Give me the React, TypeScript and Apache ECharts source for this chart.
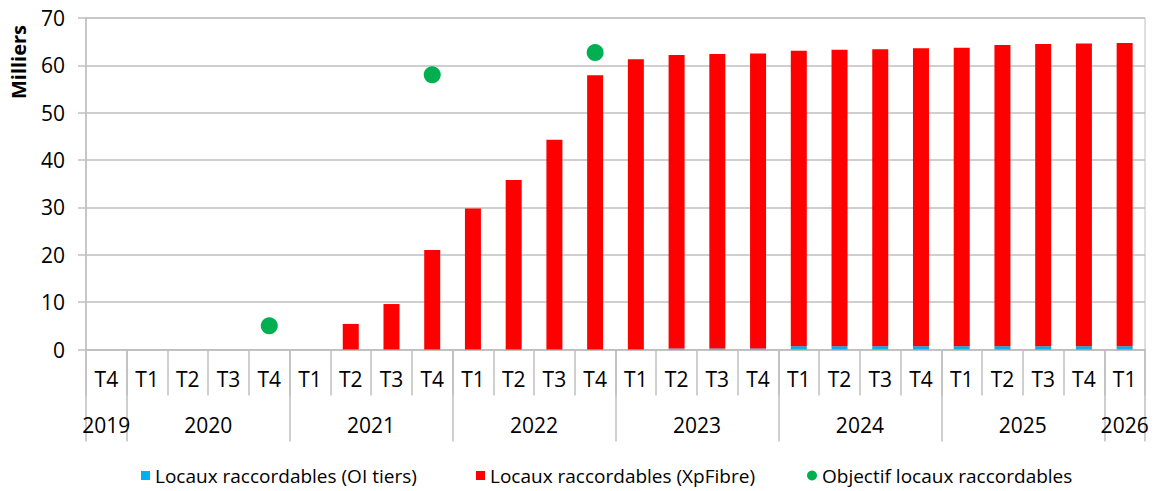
import React, { useEffect, useRef } from "react";
import * as echarts from "echarts";

const quarters = [
  "T4",
  "T1", "T2", "T3", "T4",
  "T1", "T2", "T3", "T4",
  "T1", "T2", "T3", "T4",
  "T1", "T2", "T3", "T4",
  "T1", "T2", "T3", "T4",
  "T1", "T2", "T3", "T4",
  "T1",
];
const years = ["2019", "2020", "2021", "2022", "2023", "2024", "2025", "2026"];
const quartersPerYear = [1, 4, 4, 4, 4, 4, 4, 1];

const oiTiers = [
  0,
  0, 0, 0, 0,
  0, 0, 0, 0,
  0, 0, 0, 0,
  0, 0.2, 0.2, 0.2,
  0.7, 0.7, 0.7, 0.7,
  0.7, 0.7, 0.7, 0.7,
  0.7,
];
const xpFibre = [
  0,
  0, 0, 0, 0,
  0, 5.4, 9.6, 21.0,
  29.8, 35.8, 44.3, 57.9,
  61.3, 62.0, 62.2, 62.3,
  62.4, 62.6, 62.7, 62.9,
  63.0, 63.6, 63.8, 63.9,
  64.0,
];
const objectif = [
  null,
  null, null, null, 5.0,
  null, null, null, 58.0,
  null, null, null, 62.7,
  null, null, null, null,
  null, null, null, null,
  null, null, null, null,
  null,
];
const yTicks = { min: 0, max: 70, interval: 10 };

const FONT = '"Open Sans", sans-serif';
const GRID_COLOR = "#bfbfbf";
const AXIS_FS = 21;
const LEGEND_FS = 19;

export default function App() {
  const ref = useRef<HTMLDivElement>(null);

  useEffect(() => {
    document.body.style.margin = "0";
    if (!ref.current) return;
    const chart = echarts.init(ref.current, undefined, { renderer: "svg" });

    const boundaries: number[] = [0];
    const centres: number[] = [];
    let acc = 0;
    quartersPerYear.forEach((n) => {
      centres.push(acc + n / 2);
      acc += n;
      boundaries.push(acc);
    });

    const legendBase = {
      top: 466,
      padding: 0,
      itemWidth: 9,
      itemHeight: 9,
      textStyle: { fontSize: LEGEND_FS, color: "#000", fontFamily: FONT },
    };

    const option: any = {
      animation: false,
      textStyle: { fontFamily: FONT },
      grid: {
        left: 86,
        right: 13,
        top: 18,
        bottom: 141.5,
        show: true,
        borderColor: GRID_COLOR,
        borderWidth: 1,
        backgroundColor: "transparent",
      },
      legend: [
        {
          ...legendBase,
          data: [{ name: "Locaux raccordables (OI tiers)", icon: "rect" }],
          left: 141,
        },
        {
          ...legendBase,
          data: [{ name: "Locaux raccordables (XpFibre)", icon: "rect" }],
          left: 476,
        },
        {
          ...legendBase,
          data: [{ name: "Objectif locaux raccordables", icon: "circle" }],
          left: 807,
          itemWidth: 10,
          itemHeight: 10,
        },
      ],
      xAxis: [
        {
          type: "category",
          data: quarters,
          position: "bottom",
          boundaryGap: true,
          axisLine: { show: true, lineStyle: { color: GRID_COLOR, width: 1.5 } },
          axisTick: {
            show: true,
            interval: 0,
            length: 46,
            lineStyle: { color: GRID_COLOR, width: 1.5 },
          },
          axisLabel: {
            interval: 0,
            margin: 19,
            fontSize: AXIS_FS,
            color: "#000",
            fontFamily: FONT,
          },
          splitLine: { show: false },
        },
        {
          type: "value",
          min: 0,
          max: quarters.length,
          position: "bottom",
          axisLine: { show: false },
          splitLine: { show: false },
          axisTick: {
            show: true,
            customValues: boundaries,
            length: 92,
            lineStyle: { color: GRID_COLOR, width: 1.5 },
          },
          axisLabel: {
            show: true,
            customValues: centres,
            margin: 65,
            fontSize: AXIS_FS,
            color: "#000",
            fontFamily: FONT,
            formatter: (v: number) => {
              const i = centres.findIndex((c) => Math.abs(c - v) < 1e-6);
              return i >= 0 ? years[i] : "";
            },
          },
        },
      ],
      yAxis: {
        type: "value",
        min: yTicks.min,
        max: yTicks.max,
        interval: yTicks.interval,
        axisLine: { show: true, lineStyle: { color: GRID_COLOR, width: 1.5 } },
        axisTick: {
          show: true,
          length: 8,
          lineStyle: { color: GRID_COLOR, width: 1.5 },
        },
        axisLabel: {
          margin: 21,
          fontSize: AXIS_FS,
          color: "#000",
          fontFamily: FONT,
        },
        splitLine: { show: true, lineStyle: { color: GRID_COLOR, width: 1.5 } },
      },
      graphic: [
        {
          type: "text",
          x: 18.5,
          y: 62,
          rotation: Math.PI / 2,
          style: {
            text: "Milliers",
            font: 'bold 20px "Open Sans", sans-serif',
            fill: "#000",
            align: "center",
            verticalAlign: "middle",
          },
        },
      ],
      series: [
        {
          name: "Locaux raccordables (OI tiers)",
          type: "bar",
          stack: "total",
          data: oiTiers,
          barWidth: 16,
          itemStyle: { color: "#00B0F0" },
          xAxisIndex: 0,
        },
        {
          name: "Locaux raccordables (XpFibre)",
          type: "bar",
          stack: "total",
          data: xpFibre,
          barWidth: 16,
          itemStyle: { color: "#FF0000" },
          xAxisIndex: 0,
        },
        {
          name: "Objectif locaux raccordables",
          type: "scatter",
          data: objectif,
          symbolSize: 17,
          itemStyle: { color: "#00B050", opacity: 1 },
          xAxisIndex: 0,
          z: 5,
        },
      ],
    };

    chart.setOption(option);
    return () => chart.dispose();
  }, []);

  return <div ref={ref} style={{ width: 1158, height: 491 }} />;
}
